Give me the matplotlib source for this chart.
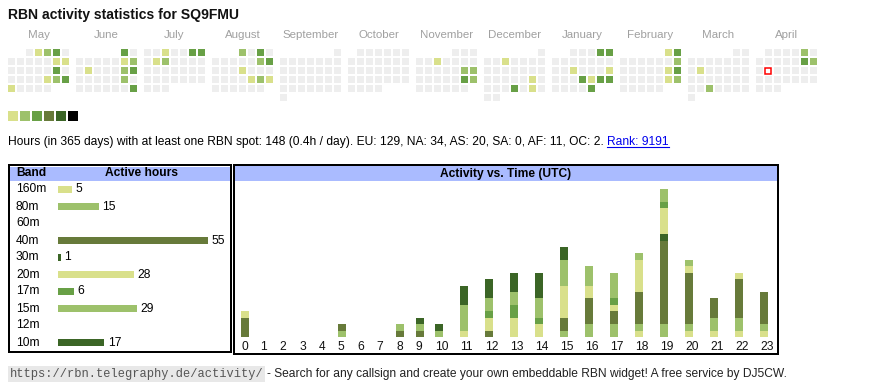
import datetime as dt
import calendar
import matplotlib
matplotlib.use("Agg")
import matplotlib.pyplot as plt
from matplotlib.patches import Rectangle
import matplotlib.transforms as mtransforms

plt.rcParams['font.family'] = ['Liberation Sans', 'DejaVu Sans']

# ---------------- data ----------------
title = "RBN activity statistics for SQ9FMU"
month_names = ["May", "June", "July", "August", "September", "October",
               "November", "December", "January", "February", "March", "April"]
first_month = (2024, 5)
today = dt.date(2025, 4, 15)

# active days -> activity level (1..6)
active_days = {
    "2024-05-02": 1, "2024-05-03": 2, "2024-05-04": 3, "2024-05-11": 1,
    "2024-05-12": 1, "2024-05-18": 3, "2024-05-24": 1, "2024-05-25": 2,
    "2024-05-26": 3, "2024-05-27": 1,
    "2024-06-01": 3, "2024-06-08": 1, "2024-06-09": 2, "2024-06-11": 1,
    "2024-06-15": 2, "2024-06-16": 3, "2024-06-22": 2, "2024-06-30": 3,
    "2024-07-03": 1, "2024-07-06": 3, "2024-07-07": 3, "2024-07-09": 1,
    "2024-07-10": 2,
    "2024-08-01": 2, "2024-08-03": 3, "2024-08-10": 2, "2024-08-11": 3,
    "2024-08-15": 1, "2024-08-23": 1, "2024-08-24": 2, "2024-08-25": 1,
    "2024-11-06": 1, "2024-11-16": 2, "2024-11-17": 2, "2024-11-23": 3,
    "2024-11-24": 2,
    "2024-12-04": 1, "2024-12-21": 1, "2024-12-26": 3, "2024-12-28": 1,
    "2025-01-04": 3, "2025-01-05": 3, "2025-01-15": 1, "2025-01-19": 1,
    "2025-01-23": 3, "2025-01-24": 1, "2025-01-25": 3, "2025-01-26": 3,
    "2025-01-31": 3,
    "2025-02-01": 1, "2025-02-02": 3, "2025-02-09": 2, "2025-02-15": 1,
    "2025-02-16": 3, "2025-02-22": 1, "2025-02-23": 2,
    "2025-03-11": 1, "2025-03-26": 2,
    "2025-04-05": 2, "2025-04-12": 3, "2025-04-13": 2,
}
level_colors = ["#eeeeee", "#d9e08b", "#9dc16b", "#68a046", "#677a3a", "#3b6526", "#000000"]

info_text = ("Hours (in 365 days) with at least one RBN spot: 148 (0.4h / day). "
             "EU: 129, NA: 34, AS: 20, SA: 0, AF: 11, OC: 2.")
rank_text = "Rank: 9191"

bands = ["160m", "80m", "60m", "40m", "30m", "20m", "17m", "15m", "12m", "10m"]
band_hours = [5, 15, 0, 55, 1, 28, 6, 29, 0, 17]
band_colors = ["#d9e08b", "#9dc16b", "#68a046", "#677a3a", "#3b6526",
               "#d9e08b", "#68a046", "#9dc16b", "#677a3a", "#3b6526"]

hours = list(range(24))
hourly = {
    "160m": [0, 0, 0, 0, 0, 0, 0, 0, 0, 0, 0, 0, 0, 0, 0, 0, 0, 0, 1, 0, 1, 1, 1, 1],
    "80m":  [0, 0, 0, 0, 0, 1, 0, 0, 0, 0, 0, 0, 0, 0, 0, 1, 2, 2, 1, 2, 1, 2, 2, 1],
    "60m":  [0] * 24,
    "40m":  [3, 0, 0, 0, 0, 1, 0, 0, 1, 1, 0, 0, 1, 0, 0, 2, 4, 2, 5, 13, 8, 3, 6, 5],
    "30m":  [0, 0, 0, 0, 0, 0, 0, 0, 0, 0, 0, 0, 0, 0, 0, 0, 0, 0, 0, 1, 0, 0, 0, 0],
    "20m":  [1, 0, 0, 0, 0, 0, 0, 0, 0, 0, 0, 1, 2, 3, 2, 5, 2, 1, 5, 4, 1, 0, 1, 0],
    "17m":  [0, 0, 0, 0, 0, 0, 0, 0, 0, 0, 0, 0, 1, 2, 1, 0, 0, 1, 0, 1, 0, 0, 0, 0],
    "15m":  [0, 0, 0, 0, 0, 0, 0, 0, 1, 1, 1, 4, 2, 2, 3, 4, 3, 4, 1, 2, 1, 0, 0, 0],
    "12m":  [0] * 24,
    "10m":  [0, 0, 0, 0, 0, 0, 0, 0, 0, 1, 1, 3, 3, 3, 4, 2, 0, 0, 0, 0, 0, 0, 0, 0],
}

footer_url = "https://rbn.telegraphy.de/activity/"
footer_text = "- Search for any callsign and create your own embeddable RBN widget! A free service by DJ5CW."

# ---------------- layout ----------------
W, H = 870, 390
fig = plt.figure(figsize=(W / 100, H / 100), dpi=100)
fig.patch.set_facecolor("white")


def px_axes(x0, y0, x1, y1):
    return fig.add_axes([x0 / W, 1 - y1 / H, (x1 - x0) / W, (y1 - y0) / H])


bg = px_axes(0, 0, W, H)
bg.set_xlim(0, W)
bg.set_ylim(H, 0)
bg.axis("off")

PX = 0.72  # points per pixel
FS = 12 * PX

bg.text(8, 15, title, fontsize=14 * PX, fontweight="bold", va="center", ha="left", color="#111111")

# calendar
CELL, PITCH, BLOCK, CX0, CY0 = 7, 9, 68, 8, 49
y, m = first_month
for b, name in enumerate(month_names):
    bx = CX0 + BLOCK * b
    bg.text(bx + (6 * PITCH + CELL) / 2, 35, name, fontsize=11.5 * PX, color="#a0a0a0",
            ha="center", va="center")
    first_wd, ndays = calendar.monthrange(y, m)
    for d in range(1, ndays + 1):
        idx = first_wd + d - 1
        r, c = divmod(idx, 7)
        date = dt.date(y, m, d)
        lvl = active_days.get(date.isoformat(), 0)
        x0, y0 = bx + PITCH * c, CY0 + PITCH * r
        if date == today:
            bg.add_patch(Rectangle((x0 + 0.5, y0 + 0.5), CELL - 1, CELL - 1, facecolor="white",
                                   edgecolor="#ff0000", lw=1.1))
        else:
            bg.add_patch(Rectangle((x0, y0), CELL, CELL, facecolor=level_colors[lvl],
                                   edgecolor="none"))
    m += 1
    if m > 12:
        m, y = 1, y + 1

# legend
for i, col in enumerate(level_colors[1:]):
    bg.add_patch(Rectangle((8 + 12 * i, 111), 10, 10, facecolor=col, edgecolor="none"))

# info text with rank link
t_info = bg.text(8, 142, info_text, fontsize=FS, color="#000000", va="center", ha="left")
fig.canvas.draw()
rend = fig.canvas.get_renderer()
bb = t_info.get_window_extent(rend)
rx = bb.x1 + 3.5
t_rank = bg.text(rx, 142, rank_text, fontsize=FS, color="#0000ee", va="center", ha="left")
bb2 = t_rank.get_window_extent(rend)
bg.plot([bb2.x0, bb2.x1], [146.8, 146.8], color="#0000ee", lw=0.8)

# panels
bg.add_patch(Rectangle((9, 165), 222, 187, facecolor="none", edgecolor="black", lw=2 * PX))
bg.add_patch(Rectangle((234, 165), 544, 189, facecolor="none", edgecolor="black", lw=2 * PX))
bg.add_patch(Rectangle((10, 167), 220, 14, facecolor="#aabbff", edgecolor="none"))
bg.add_patch(Rectangle((235, 166), 542, 15, facecolor="#aabbff", edgecolor="none"))
bg.text(16, 173.5, "Band", fontsize=FS, fontweight="bold", va="center", ha="left")
bg.text(142, 173.5, "Active hours", fontsize=FS, fontweight="bold", va="center", ha="center")
bg.text(506, 173.5, "Activity vs. Time (UTC)", fontsize=FS, fontweight="bold",
        va="center", ha="center")

# band bars
UNIT_B = 150 / 55
axb = px_axes(58, 181, 225, 351)
axb.patch.set_alpha(0)
axb.set_xlim(0, (225 - 58) / UNIT_B)
axb.set_ylim(len(bands) - 0.5, -0.5)
axb.axis("off")
ypos = list(range(len(bands)))
axb.barh(ypos, band_hours, height=7 / 17, color=band_colors, left=0)
lab_tr = mtransforms.blended_transform_factory(bg.transData, axb.transData)
for i, (bname, v) in enumerate(zip(bands, band_hours)):
    axb.text(16, i, bname, transform=lab_tr, fontsize=FS, va="center", ha="left")
    if v > 0:
        axb.annotate(str(v), xy=(v, i), xytext=(3.5 * PX, 0), textcoords="offset points",
                     fontsize=FS, va="center", ha="left")

# hourly stacked bars
UNIT_H = 6.43
axh = px_axes(236, 181, 778, 337)
axh.patch.set_alpha(0)
axh.set_xlim(236, 778)
axh.set_ylim(0, (337 - 181) / UNIT_H)
axh.axis("off")
labels = [str(h) for h in hours]
col_w = [13.8 + 5.6 * len(s) for s in labels]
lefts = []
x = 241.0
for w in col_w:
    lefts.append(x)
    x += w
bottom = [0] * 24
for bname, col in zip(bands, band_colors):
    vals = hourly[bname]
    if sum(vals) == 0:
        continue
    axh.bar(lefts, vals, width=8, bottom=bottom, align="edge", color=col, linewidth=0)
    bottom = [a + b for a, b in zip(bottom, vals)]
for xl, s in zip(lefts, labels):
    axh.annotate(s, xy=(xl, 0), xytext=(0, -9.5 * PX), textcoords="offset points",
                 fontsize=FS, va="center", ha="left", color="#111111")

# footer
t_url = bg.text(9.5, 374, footer_url, fontsize=12 * PX, family="Liberation Mono", color="#555555",
                va="center", ha="left",
                bbox=dict(boxstyle="square,pad=0.15", facecolor="#e8e8e8", edgecolor="none"))
fig.canvas.draw()
bb3 = t_url.get_window_extent(rend)
bg.text(bb3.x1 + 4, 374, footer_text, fontsize=FS, color="#222222", va="center", ha="left")

fig.savefig("out.png", dpi=100, facecolor="white")
